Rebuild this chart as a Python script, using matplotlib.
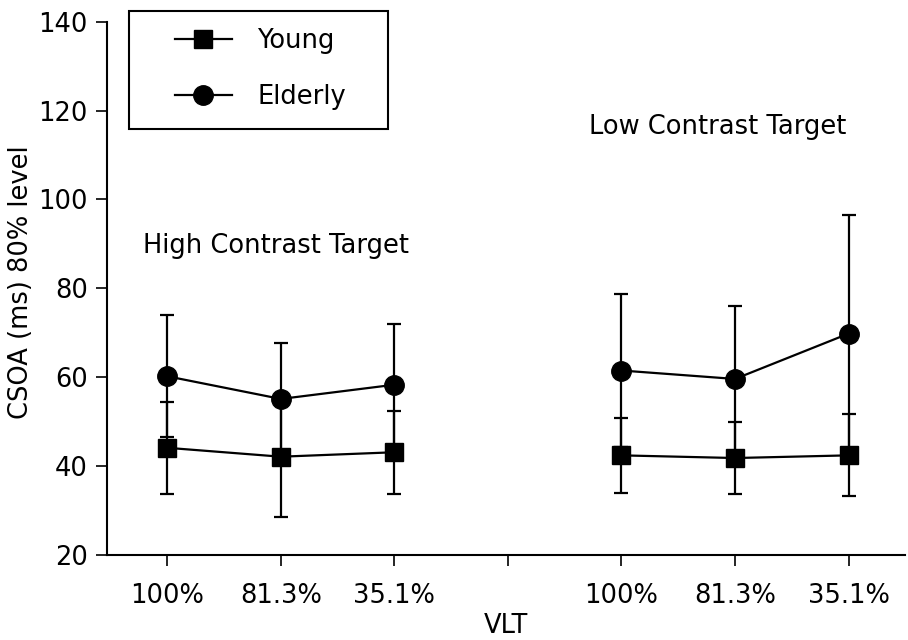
import matplotlib.pyplot as plt
from matplotlib.patches import Rectangle

# x positions: two groups of three VLT levels, gap tick in the middle
x_high = [1, 2, 3]
x_low = [5, 6, 7]
tick_pos = [1, 2, 3, 4, 5, 6, 7]
tick_labels = ['100%', '81.3%', '35.1%', '', '100%', '81.3%', '35.1%']

# High contrast target
young_high = [44.1, 42.1, 43.1]
young_high_err = [10.4, 13.5, 9.3]
elderly_high = [60.2, 55.1, 58.3]
elderly_high_err = [13.7, 12.7, 13.7]

# Low contrast target
young_low = [42.4, 41.8, 42.4]
young_low_err = [8.4, 8.2, 9.2]
elderly_low = [61.5, 59.6, 69.8]
elderly_low_err = [17.3, 16.5, 26.8]

plt.rcParams['font.family'] = 'DejaVu Sans'
fs = 18.5

fig = plt.figure(figsize=(9.08, 6.4), dpi=100)
ax = fig.add_axes([0.118, 0.133, 0.879, 0.833])

sty = dict(color='black', lw=1.6, elinewidth=1.6, capsize=5, capthick=1.6)

for xs, yv, ye in [(x_high, young_high, young_high_err), (x_low, young_low, young_low_err)]:
    ax.errorbar(xs, yv, yerr=ye, fmt='-s', ms=13, **sty)
for xs, yv, ye in [(x_high, elderly_high, elderly_high_err), (x_low, elderly_low, elderly_low_err)]:
    ax.errorbar(xs, yv, yerr=ye, fmt='-o', ms=14, **sty)

# legend: frameless entries plus a hand-placed box (wide side padding)
ly, = ax.plot([], [], '-s', color='black', ms=13, lw=1.6, label='Young')
le, = ax.plot([], [], '-o', color='black', ms=14, lw=1.6, label='Elderly')
fig.legend(handles=[ly, le], loc='upper left', bbox_to_anchor=(175 / 908, 1 - 28 / 640),
           frameon=False, handlelength=2.2, borderpad=0, labelspacing=1.15,
           handletextpad=1.0, fontsize=fs, borderaxespad=0)
fig.patches.append(Rectangle((129 / 908, 1 - 129 / 640), 259 / 908, 118 / 640,
                             transform=fig.transFigure, fill=False,
                             edgecolor='black', lw=1.5))

ax.text(1.96, 89.6, 'High Contrast Target', ha='center', va='center', fontsize=fs)
ax.text(5.85, 116.3, 'Low Contrast Target', ha='center', va='center', fontsize=fs)

ax.set_xlim(0.47, 7.5)
ax.set_ylim(20, 140)
ax.set_yticks(range(20, 141, 20))
ax.set_xticks(tick_pos)
ax.set_xticklabels(tick_labels)
ax.tick_params(direction='out', length=8, width=1.2, pad=6, labelsize=fs)
ax.tick_params(axis='x', pad=12)

ax.spines['top'].set_visible(False)
ax.spines['right'].set_visible(False)
ax.spines['left'].set_linewidth(1.5)
ax.spines['bottom'].set_linewidth(1.5)

ax.set_xlabel('VLT', fontsize=fs, labelpad=3)
ax.set_ylabel('CSOA (ms) 80% level', fontsize=fs)
ax.yaxis.set_label_coords(-0.092, 0.512)

fig.savefig('out.png', dpi=100)
